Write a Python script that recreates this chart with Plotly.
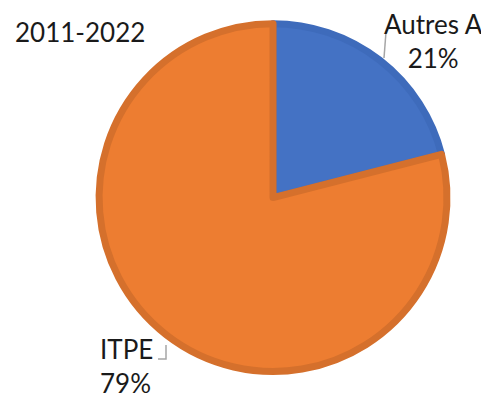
import plotly.graph_objects as go

labels = ["Autres A", "ITPE"]
values = [21, 79]
colors = ["#4472C4", "#ED7D31"]
border_colors = ["#3E6BBB", "#D5702C"]
title_text = "2011-2022"

total = sum(values)
pcts = [round(100 * v / total) for v in values]

fig = go.Figure(go.Pie(
    labels=labels,
    values=values,
    sort=False,
    direction="clockwise",
    rotation=0,
    marker=dict(colors=colors, line=dict(color=border_colors, width=7)),
    textinfo="none",
    domain=dict(x=[0.186, 0.898], y=[0.0935, 0.961]),
    hoverinfo="label+percent",
))

txt_font = dict(family="Lato", size=26, color="#1a1a1a")
annotations = [
    dict(text=title_text, x=0.010, y=0.985, xref="paper", yref="paper",
         xanchor="left", yanchor="top", showarrow=False, font=txt_font),
    dict(text=f"{labels[0]}<br>{pcts[0]}%", x=0.871, y=0.918, xref="paper", yref="paper",
         xanchor="center", yanchor="middle", showarrow=False, align="center", font=txt_font),
    dict(text=f"{labels[1]}<br>{pcts[1]}%", x=0.184, y=0.108, xref="paper", yref="paper",
         xanchor="left", yanchor="middle", showarrow=False, align="left", font=txt_font),
]

W, H = 489, 401
line_style = dict(color="#A6A6A6", width=1.5)
shapes = [
    dict(type="line", xref="paper", yref="paper",
         x0=378 / W, y0=1 - 24 / H, x1=376 / W, y1=1 - 50 / H, line=line_style),
    dict(type="path", xref="paper", yref="paper",
         path=f"M {158 / W} {1 - 337 / H} L {158 / W} {1 - 351 / H} L {150 / W} {1 - 351 / H}",
         line=line_style),
]

fig.update_layout(
    width=W, height=H,
    margin=dict(l=0, r=0, t=0, b=0),
    paper_bgcolor="white",
    showlegend=False,
    annotations=annotations,
    shapes=shapes,
)

fig.write_html("out.html")
